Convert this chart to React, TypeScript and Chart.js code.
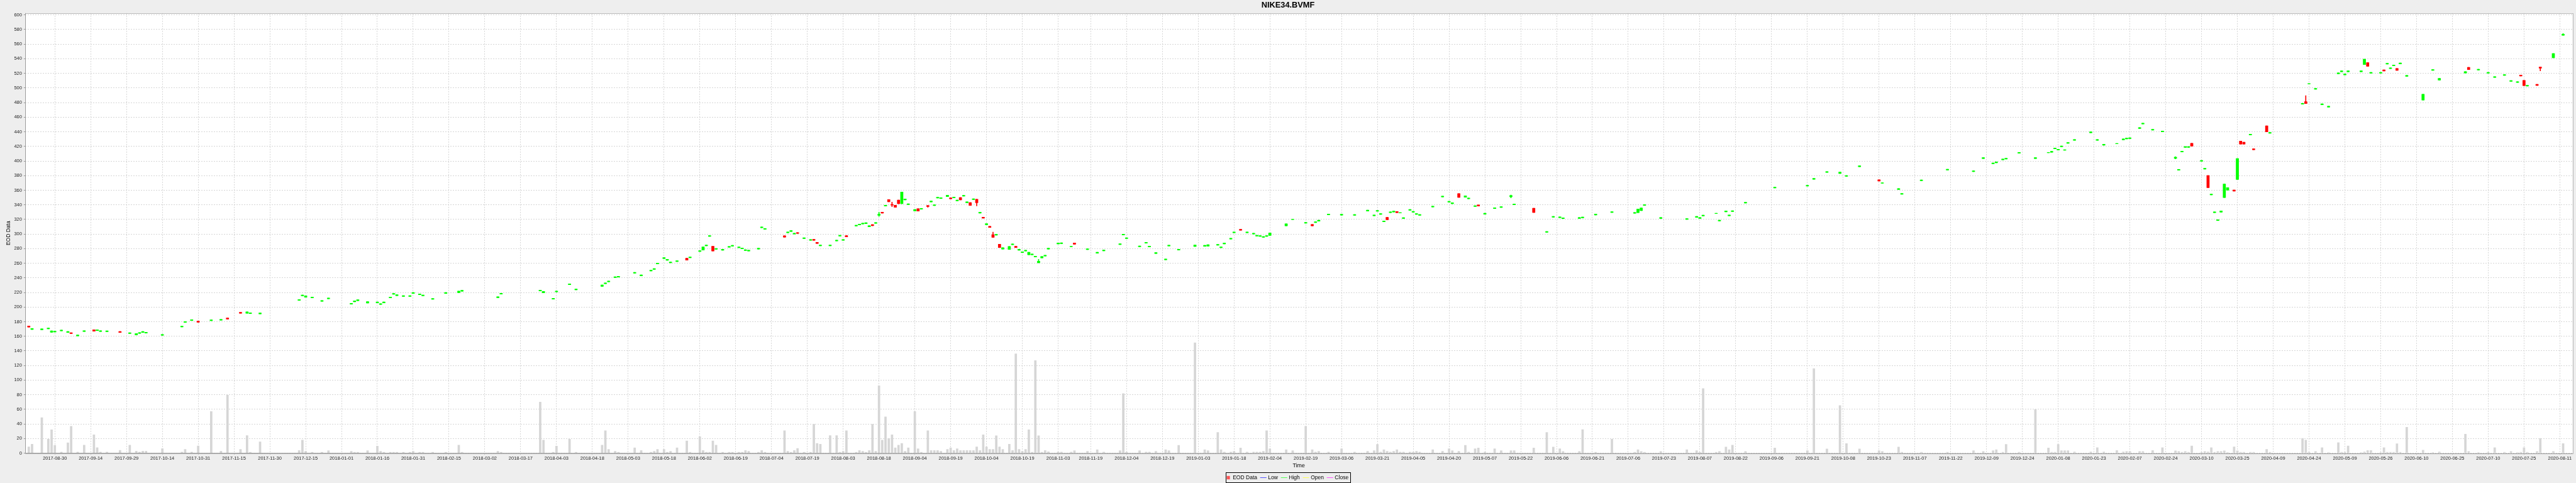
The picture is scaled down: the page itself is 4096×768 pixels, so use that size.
import React, { useEffect, useRef } from "react";
import { Chart, registerables } from "chart.js";

Chart.register(...registerables);

const W = 4096;
const H = 768;
const S = W / 5760;

const TITLE = "NIKE34.BVMF";
const Y_TITLE = "EOD Data";
const X_TITLE = "Time";
const LEGEND_NAMES = ["EOD Data", "Low", "High", "Open", "Close"];
const LEGEND_COLORS = ["#FF5555", "#5555FF", "#55FF55", "#FFFF55", "#FF55FF"];

// x: trading-day (Mon-Fri) offset from 2017-08-30
const DAY = [
  -8, -7, -4, -2, -1, 0, 2, 4, 5, 7,
  9, 12, 13, 14, 16, 20, 23, 25, 26, 27,
  28, 33, 39, 40, 42, 44, 48, 51, 53, 57,
  59, 60, 63, 75, 76, 77, 79, 82, 84, 91,
  92, 93, 96, 99, 100, 101, 103, 104, 105, 107,
  109, 110, 112, 113, 116, 120, 124, 125, 136, 137,
  149, 150, 153, 154, 158, 160, 168, 169, 170, 172,
  173, 178, 180, 183, 184, 185, 187, 188, 189, 191,
  194, 195, 198, 199, 200, 201, 202, 203, 205, 207,
  208, 210, 211, 212, 213, 216, 217, 218, 224, 225,
  226, 227, 228, 230, 232, 233, 234, 235, 238, 240,
  241, 242, 243, 246, 247, 248, 249, 250, 251, 252,
  253, 254, 255, 256, 257, 258, 259, 260, 261, 262,
  264, 265, 266, 268, 269, 270, 271, 272, 274, 275,
  276, 277, 278, 279, 280, 281, 282, 283, 284, 285,
  286, 287, 288, 289, 290, 291, 293, 294, 295, 296,
  297, 298, 299, 300, 301, 302, 303, 304, 305, 308,
  309, 312, 313, 317, 320, 322, 327, 328, 329, 333,
  335, 336, 338, 341, 342, 345, 350, 353, 354, 357,
  358, 359, 361, 362, 364, 366, 368, 369, 370, 371,
  372, 373, 378, 380, 384, 386, 387, 388, 391, 395,
  399, 403, 405, 406, 407, 408, 409, 410, 411, 412,
  413, 414, 416, 417, 418, 419, 423, 426, 428, 429,
  431, 433, 434, 436, 437, 439, 442, 444, 447, 448,
  454, 458, 460, 462, 463, 468, 469, 473, 478, 485,
  486, 487, 488, 493, 501, 504, 505, 506, 510, 511,
  513, 514, 515, 519, 528, 538, 540, 544, 548, 550,
  554, 560, 561, 566, 567, 573, 581, 589, 592, 595,
  596, 598, 599, 603, 608, 612, 613, 614, 615, 616,
  617, 618, 620, 625, 627, 629, 633, 635, 636, 637,
  640, 641, 644, 647, 651, 652, 653, 654, 655, 656,
  659, 660, 661, 662, 663, 664, 665, 666, 667, 669,
  670, 671, 672, 674, 675, 679, 680, 690, 691, 692,
  694, 696, 698, 701, 702, 703, 704, 708, 709, 710,
  711, 714, 715, 716, 717, 718, 719, 720, 722, 727,
  730, 732, 740, 741, 744, 747, 749, 752, 754, 756,
  757, 758, 759, 762, 763, 767, 770,
];

const OPEN = [
  174.2, 169.4, 169.0, 170.2, 165.5, 165.9, 167.3, 165.3, 164.9, 160.6,
  166.5, 169.0, 167.8, 166.5, 166.3, 166.5, 163.7, 161.8, 163.9, 165.3,
  164.3, 161.4, 172.7, 179.0, 181.6, 180.8, 181.4, 182.0, 185.2, 192.8,
  191.6, 191.0, 190.7, 209.1, 215.4, 213.5, 212.6, 207.9, 211.2, 204.0,
  207.3, 208.8, 205.4, 205.8, 203.6, 205.8, 212.6, 217.5, 215.7, 214.5,
  214.5, 218.7, 216.9, 215.4, 210.6, 218.7, 219.6, 221.7, 212.9, 217.8,
  222.0, 219.5, 210.9, 220.8, 230.7, 223.5, 228.4, 231.9, 234.6, 240.3,
  240.9, 246.3, 242.8, 249.4, 251.5, 259.0, 266.5, 264.1, 260.5, 262.3,
  267.0, 267.4, 276.1, 278.0, 283.9, 296.8, 283.3, 279.1, 277.9, 281.8,
  283.4, 281.2, 279.7, 277.3, 276.7, 279.4, 308.6, 306.5, 297.6, 301.7,
  303.5, 299.9, 302.0, 293.8, 291.4, 292.7, 288.6, 283.9, 283.9, 290.5,
  297.1, 291.4, 298.0, 311.0, 312.5, 313.7, 314.3, 309.9, 313.0, 314.6,
  325.5, 330.0, 338.3, 347.1, 340.5, 339.5, 346.5, 341.6, 346.8, 340.2,
  331.6, 334.7, 333.9, 339.0, 344.0, 338.9, 349.2, 348.6, 351.2, 349.6,
  349.5, 345.3, 350.1, 351.9, 342.9, 343.2, 347.1, 347.7, 328.7, 323.0,
  312.6, 310.6, 299.0, 298.4, 286.0, 279.3, 278.8, 285.4, 283.3, 277.9,
  274.6, 276.7, 271.6, 271.6, 268.6, 260.5, 267.3, 269.8, 279.4, 286.5,
  286.9, 282.5, 287.7, 278.7, 273.8, 277.0, 285.6, 298.7, 293.8, 282.6,
  287.5, 282.3, 273.4, 264.6, 283.6, 278.0, 282.9, 283.3, 283.5, 284.6,
  281.3, 286.5, 293.1, 301.7, 306.6, 301.7, 300.0, 297.1, 296.8, 295.4,
  296.8, 298.0, 311.1, 319.7, 314.8, 313.1, 315.7, 317.7, 326.2, 325.9,
  325.6, 331.5, 325.0, 331.2, 326.9, 316.7, 322.9, 329.2, 330.2, 330.9,
  328.8, 321.3, 332.5, 329.8, 326.9, 325.6, 337.0, 350.8, 343.6, 341.6,
  355.4, 350.4, 348.2, 337.7, 339.8, 327.2, 334.8, 336.4, 351.1, 340.0,
  335.4, 302.3, 323.0, 322.3, 321.1, 321.4, 322.2, 326.1, 329.4, 328.3,
  329.3, 332.1, 339.1, 321.4, 320.0, 322.9, 321.4, 324.7, 327.9, 317.9,
  330.4, 325.0, 330.8, 342.3, 363.1, 365.6, 375.0, 384.3, 382.9, 378.9,
  392.2, 374.4, 369.6, 361.0, 354.5, 372.9, 387.6, 385.4, 403.4, 396.2,
  397.6, 401.6, 402.6, 410.6, 403.4, 411.2, 412.0, 416.6, 414.9, 419.5,
  414.8, 424.2, 428.2, 438.7, 428.2, 421.7, 423.5, 429.0, 430.2, 430.6,
  444.5, 450.7, 442.2, 439.9, 403.5, 387.3, 412.4, 418.5, 418.5, 424.2,
  399.6, 388.8, 380.1, 353.6, 329.3, 318.4, 329.9, 350.0, 360.0, 360.4,
  374.7, 427.3, 425.8, 435.6, 416.8, 448.2, 437.9, 477.7, 481.4, 505.5,
  498.2, 477.0, 473.8, 519.4, 522.2, 517.9, 522.2, 522.2, 532.0, 534.7,
  520.2, 520.2, 524.7, 532.6, 526.4, 530.3, 526.7, 533.0, 516.0, 483.4,
  524.1, 510.8, 520.5, 528.2, 524.5, 520.2, 514.4, 517.2, 509.0, 507.5,
  517.7, 510.4, 502.5, 505.0, 528.6, 541.4, 572.0,
];

const CLOSE = [
  172.6, 170.6, 170.2, 171.4, 167.5, 167.1, 168.5, 166.5, 163.7, 161.8,
  167.7, 167.0, 169.0, 167.7, 167.5, 165.3, 164.9, 163.8, 165.1, 166.5,
  165.5, 162.6, 173.9, 180.2, 182.8, 179.2, 182.6, 183.2, 183.6, 191.6,
  193.6, 192.2, 191.9, 210.3, 216.6, 215.5, 213.8, 209.1, 212.4, 205.2,
  208.5, 210.0, 207.4, 207.0, 204.8, 207.0, 213.8, 218.7, 216.9, 215.7,
  215.7, 219.9, 218.1, 216.6, 211.8, 219.9, 222.0, 222.9, 214.1, 219.0,
  223.2, 221.5, 212.1, 222.0, 231.9, 224.7, 230.4, 233.1, 235.8, 241.5,
  242.1, 247.5, 244.0, 250.6, 252.7, 260.2, 267.7, 265.3, 261.7, 263.5,
  264.2, 268.6, 277.3, 282.5, 285.1, 298.0, 276.7, 280.3, 279.1, 283.0,
  284.6, 282.4, 280.9, 278.5, 277.9, 280.6, 309.8, 307.7, 295.6, 302.9,
  304.7, 301.1, 300.8, 295.0, 292.6, 291.3, 287.0, 285.1, 285.1, 291.7,
  298.3, 292.6, 296.2, 312.2, 313.7, 314.9, 315.5, 311.5, 311.4, 315.8,
  327.1, 328.6, 339.5, 344.1, 339.5, 336.5, 341.6, 357.6, 348.0, 341.4,
  333.6, 331.4, 335.1, 337.6, 345.2, 340.1, 350.4, 349.8, 353.2, 348.2,
  350.7, 346.5, 346.8, 353.1, 344.1, 339.2, 348.3, 342.9, 329.9, 321.8,
  314.2, 309.0, 295.4, 299.6, 281.5, 281.3, 283.0, 286.6, 281.5, 279.1,
  275.8, 277.9, 275.2, 272.8, 269.8, 262.9, 269.3, 271.0, 280.6, 287.7,
  288.1, 283.3, 285.9, 279.9, 275.0, 278.2, 286.8, 299.9, 295.0, 283.8,
  288.7, 283.5, 274.6, 265.8, 284.8, 279.2, 284.9, 284.5, 285.5, 285.8,
  282.5, 287.7, 294.3, 302.9, 305.2, 302.9, 301.2, 298.3, 298.0, 296.6,
  298.0, 301.6, 314.0, 320.3, 316.0, 311.1, 316.9, 318.9, 327.4, 327.1,
  326.8, 332.7, 326.2, 332.4, 328.1, 317.9, 319.6, 330.4, 331.4, 329.3,
  329.4, 322.5, 333.7, 331.0, 328.1, 326.8, 338.2, 352.0, 344.8, 342.8,
  350.1, 352.4, 349.4, 338.9, 338.2, 328.4, 336.0, 337.6, 352.9, 341.2,
  329.5, 303.5, 324.2, 323.5, 322.3, 322.6, 323.4, 327.3, 330.6, 329.5,
  334.3, 335.7, 340.3, 322.6, 321.2, 324.1, 322.6, 325.9, 328.5, 319.1,
  331.6, 326.2, 332.0, 343.5, 364.3, 366.8, 376.2, 385.5, 384.9, 380.1,
  393.4, 372.6, 370.2, 362.2, 355.7, 374.1, 388.8, 386.6, 404.6, 397.4,
  398.8, 402.8, 403.8, 411.8, 404.6, 411.8, 413.2, 417.8, 416.1, 420.7,
  415.4, 425.4, 429.4, 439.9, 429.4, 422.9, 424.1, 430.2, 431.4, 431.8,
  445.7, 451.9, 443.4, 441.1, 405.3, 388.5, 413.6, 419.7, 419.7, 420.3,
  400.8, 390.0, 363.5, 354.8, 330.5, 319.6, 331.8, 368.5, 363.5, 358.8,
  403.4, 423.1, 423.1, 436.8, 415.4, 440.0, 439.1, 478.9, 478.7, 506.1,
  499.4, 478.2, 475.0, 520.6, 523.4, 519.1, 523.4, 523.4, 539.4, 529.7,
  521.4, 521.4, 523.3, 533.8, 527.6, 531.5, 524.0, 534.2, 517.2, 491.5,
  525.3, 513.1, 522.4, 525.1, 525.7, 521.4, 515.6, 518.4, 510.2, 508.7,
  516.3, 503.1, 503.7, 503.5, 527.0, 547.1, 573.6,
];

const HIGH = [
  174.2, 170.6, 170.2, 171.4, 167.5, 167.1, 168.5, 166.5, 164.9, 161.8,
  167.7, 169.0, 169.0, 167.7, 167.5, 166.5, 164.9, 163.8, 165.1, 166.5,
  165.5, 162.6, 173.9, 180.2, 182.8, 180.8, 182.6, 183.2, 185.2, 192.8,
  193.6, 192.2, 191.9, 210.3, 216.6, 215.5, 213.8, 209.1, 212.4, 205.2,
  208.5, 210.0, 207.4, 207.0, 204.8, 207.0, 213.8, 218.7, 216.9, 215.7,
  215.7, 219.9, 218.1, 216.6, 211.8, 219.9, 222.0, 222.9, 214.1, 219.0,
  223.2, 221.5, 212.1, 222.0, 231.9, 224.7, 230.4, 233.1, 235.8, 241.5,
  242.1, 247.5, 244.0, 250.6, 252.7, 260.2, 267.7, 265.3, 261.7, 263.5,
  267.0, 268.6, 277.3, 282.5, 285.1, 298.0, 283.3, 280.3, 279.1, 283.0,
  284.6, 282.4, 280.9, 278.5, 277.9, 280.6, 309.8, 307.7, 297.6, 302.9,
  304.7, 301.1, 302.0, 295.0, 292.6, 292.7, 288.6, 285.1, 285.1, 291.7,
  298.3, 292.6, 298.0, 312.2, 313.7, 314.9, 315.5, 311.5, 313.0, 315.8,
  330.0, 330.0, 339.5, 347.1, 343.8, 339.5, 346.5, 357.6, 348.0, 341.4,
  333.6, 334.7, 335.1, 339.3, 345.2, 340.1, 350.4, 349.8, 353.2, 349.6,
  350.7, 346.5, 350.1, 353.1, 344.1, 343.2, 348.3, 347.7, 329.9, 323.0,
  314.2, 310.6, 302.6, 299.6, 286.0, 281.3, 283.0, 286.6, 283.3, 279.1,
  275.8, 277.9, 275.2, 272.8, 269.8, 265.3, 269.3, 271.0, 280.6, 287.7,
  288.1, 283.3, 287.7, 279.9, 275.0, 278.2, 286.8, 299.9, 295.0, 283.8,
  288.7, 283.5, 274.6, 265.8, 284.8, 279.2, 284.9, 284.5, 285.5, 285.8,
  282.5, 287.7, 294.3, 302.9, 306.6, 302.9, 301.2, 298.3, 298.0, 296.6,
  298.0, 301.6, 314.0, 320.3, 316.0, 313.1, 316.9, 318.9, 327.4, 327.1,
  326.8, 332.7, 326.2, 332.4, 328.1, 317.9, 322.9, 330.4, 331.4, 330.9,
  329.4, 322.5, 333.7, 331.0, 328.1, 326.8, 338.2, 352.0, 344.8, 342.8,
  355.4, 352.4, 349.4, 338.9, 339.8, 328.4, 336.0, 337.6, 353.5, 341.2,
  335.4, 303.5, 324.2, 323.5, 322.3, 322.6, 323.4, 327.3, 330.6, 329.5,
  334.3, 335.7, 340.3, 322.6, 321.2, 324.1, 322.6, 325.9, 328.5, 319.1,
  331.6, 326.2, 332.0, 343.5, 364.3, 366.8, 376.2, 385.5, 384.9, 380.1,
  393.4, 374.4, 370.2, 362.2, 355.7, 374.1, 388.8, 386.6, 404.6, 397.4,
  398.8, 402.8, 403.8, 411.8, 404.6, 411.8, 413.2, 417.8, 416.1, 420.7,
  415.4, 425.4, 429.4, 439.9, 429.4, 422.9, 424.1, 430.2, 431.4, 431.8,
  445.7, 451.9, 443.4, 441.1, 406.0, 388.5, 413.6, 419.7, 419.7, 424.2,
  400.8, 390.0, 380.1, 354.8, 330.5, 319.6, 331.8, 368.5, 363.5, 360.4,
  403.4, 427.3, 425.8, 436.8, 416.8, 448.2, 439.1, 478.9, 489.6, 506.1,
  499.4, 478.2, 475.0, 520.6, 523.4, 519.1, 523.4, 523.4, 539.4, 534.7,
  521.4, 521.4, 524.7, 533.8, 527.6, 531.5, 526.7, 534.2, 517.2, 491.5,
  525.3, 513.1, 522.4, 528.2, 525.7, 521.4, 515.6, 518.4, 510.2, 508.7,
  517.7, 510.4, 503.7, 505.0, 528.6, 547.1, 574.6,
];

const LOW = [
  172.6, 169.4, 169.0, 170.2, 165.5, 165.9, 167.3, 165.3, 163.7, 160.6,
  166.5, 167.0, 167.8, 166.5, 166.3, 165.3, 163.7, 161.8, 163.9, 165.3,
  164.3, 161.4, 172.7, 179.0, 181.6, 179.2, 181.4, 182.0, 183.6, 191.6,
  191.6, 191.0, 190.7, 209.1, 215.4, 213.5, 212.6, 207.9, 211.2, 204.0,
  207.3, 208.8, 205.4, 205.8, 203.6, 205.8, 212.6, 217.5, 215.7, 214.5,
  214.5, 218.7, 216.9, 215.4, 210.6, 218.7, 219.6, 221.7, 212.9, 217.8,
  222.0, 219.5, 210.9, 220.8, 230.7, 223.5, 228.4, 231.9, 234.6, 240.3,
  240.9, 246.3, 242.8, 249.4, 251.5, 259.0, 266.5, 264.1, 260.5, 262.3,
  264.2, 267.4, 276.1, 278.0, 283.9, 296.8, 276.7, 279.1, 277.9, 281.8,
  283.4, 281.2, 279.7, 277.3, 276.7, 279.4, 308.6, 306.5, 295.6, 301.7,
  303.5, 299.9, 300.8, 293.8, 291.4, 291.3, 287.0, 283.9, 283.9, 290.5,
  297.1, 291.4, 296.2, 311.0, 312.5, 313.7, 314.3, 309.9, 311.4, 314.6,
  324.0, 328.6, 338.3, 344.1, 337.4, 336.5, 341.6, 341.6, 346.8, 340.2,
  331.6, 331.4, 333.9, 336.6, 344.0, 338.9, 349.2, 348.6, 351.2, 348.2,
  349.5, 345.3, 346.8, 351.9, 342.9, 339.2, 347.1, 338.6, 328.7, 321.8,
  312.6, 309.0, 295.4, 298.4, 281.5, 279.3, 278.8, 285.4, 281.5, 277.9,
  274.6, 276.7, 271.6, 271.6, 268.6, 260.5, 267.3, 269.8, 279.4, 286.5,
  286.9, 282.5, 285.9, 278.7, 273.8, 277.0, 285.6, 298.7, 293.8, 282.6,
  287.5, 282.3, 273.4, 264.6, 283.6, 278.0, 282.9, 283.3, 283.5, 284.6,
  281.3, 286.5, 293.1, 301.7, 305.2, 301.7, 300.0, 297.1, 296.8, 295.4,
  296.8, 298.0, 311.1, 319.7, 314.8, 311.1, 315.7, 317.7, 326.2, 325.9,
  325.6, 331.5, 325.0, 331.2, 326.9, 316.7, 319.6, 329.2, 330.2, 329.3,
  328.8, 321.3, 332.5, 329.8, 326.9, 325.6, 337.0, 350.8, 343.6, 341.6,
  350.1, 350.4, 348.2, 337.7, 338.2, 327.2, 334.8, 336.4, 349.5, 340.0,
  329.5, 302.3, 323.0, 322.3, 321.1, 321.4, 322.2, 326.1, 329.4, 328.3,
  329.3, 332.1, 339.1, 321.4, 320.0, 322.9, 321.4, 324.7, 327.9, 317.9,
  330.4, 325.0, 330.8, 342.3, 363.1, 365.6, 375.0, 384.3, 382.9, 378.9,
  392.2, 372.6, 369.6, 361.0, 354.5, 372.9, 387.6, 385.4, 403.4, 396.2,
  397.6, 401.6, 402.6, 410.6, 403.4, 411.2, 412.0, 416.6, 414.9, 419.5,
  414.8, 424.2, 428.2, 438.7, 428.2, 421.7, 423.5, 429.0, 430.2, 430.6,
  444.5, 450.7, 442.2, 439.9, 402.8, 387.3, 412.4, 418.5, 418.5, 420.3,
  399.6, 388.8, 363.5, 353.6, 329.3, 318.4, 329.9, 350.0, 360.0, 358.8,
  374.7, 423.1, 423.1, 435.6, 415.4, 440.0, 437.9, 477.7, 478.7, 505.5,
  498.2, 477.0, 473.8, 519.4, 522.2, 517.9, 522.2, 522.2, 532.0, 529.7,
  520.2, 520.2, 523.3, 532.6, 526.4, 530.3, 524.0, 533.0, 516.0, 483.4,
  524.1, 510.8, 520.5, 525.1, 524.5, 520.2, 514.4, 517.2, 509.0, 507.5,
  516.3, 503.1, 502.5, 503.5, 523.5, 541.4, 572.0,
];

const VOLUME = [
  8.6, 12.2, 48.6, 19.2, 32, 10.8, 1.4, 14.3, 36.9, 1.4,
  11, 25.1, 7.6, 1.4, 1.4, 3.9, 11, 2.7, 1.4, 2.7,
  2.7, 6.3, 1.4, 5.1, 1.4, 10, 57.1, 2.7, 79.5, 5.2,
  24.2, 1.3, 15.5, 3.7, 17.9, 2.5, 1.3, 1.3, 3.4, 2.5,
  1.3, 1.3, 3.4, 9.7, 2.5, 1.3, 1.3, 1.3, 1.3, 1.3,
  1.3, 2.5, 1.3, 1.3, 1.3, 1.3, 11, 1.3, 2.5, 1.3,
  70, 17.9, 1.3, 9.7, 19.1, 1.3, 11, 30.8, 5.2, 2.5,
  1.3, 7.3, 3.7, 1.3, 2.5, 5.2, 5.2, 1.3, 2.5, 7.3,
  16.7, 1.3, 22.7, 3.7, 1.3, 1.3, 16.7, 11, 1.3, 1.3,
  1.3, 1.3, 1.3, 3.7, 2.5, 1.3, 3.7, 1.3, 30.8, 2.5,
  1.3, 3.7, 6.4, 1.3, 1.3, 39.5, 13.4, 12.2, 24.2, 24.2,
  1.3, 2.5, 30.8, 1.3, 3.7, 2.5, 1.3, 3.7, 39.5, 2.5,
  92.4, 17.9, 49.8, 20.3, 25.1, 7.3, 11, 13.4, 2.5, 7.3,
  57, 6.1, 1.3, 30.8, 3.7, 3.7, 3.7, 2.5, 5.2, 7.3,
  3.7, 6.1, 3.7, 3.7, 3.7, 3.7, 3.7, 8.5, 3.7, 25.1,
  8.5, 5.2, 5.2, 23.9, 8.5, 5.2, 12.2, 3.7, 136, 5.2,
  2.5, 5.2, 32, 1.3, 126.7, 23.9, 1.3, 3.7, 2, 1.5,
  1.5, 1.5, 3.4, 2.5, 4.8, 1.5, 3.4, 81.5, 1.5, 3.4,
  1.5, 1.5, 2.5, 4.8, 3.4, 10.7, 151, 4.8, 3.4, 28.4,
  4.8, 1.5, 1.5, 2.5, 7.1, 1.5, 1.5, 1.5, 1.5, 2.5,
  30.7, 6.1, 4.8, 3.4, 36.9, 4.8, 1.5, 2.5, 1.5, 6.1,
  1.5, 2.5, 3.4, 12, 1.5, 4.8, 2.5, 1.5, 2.5, 4.8,
  1.5, 1.5, 1.5, 1.5, 2.5, 1.5, 4.8, 2.5, 6.1, 3.4,
  2.5, 10.7, 1.5, 6.1, 7.1, 1.5, 6.1, 3.4, 3.4, 3.4,
  7.1, 28.4, 8.4, 6, 2.3, 2.3, 32.2, 1.3, 19.2, 1.3,
  4.8, 2.3, 1.3, 2.3, 4.8, 3.4, 1.3, 88.5, 1.3, 2.3,
  8.4, 4.8, 11, 2.3, 7, 3.4, 115.9, 5.9, 65.2, 13.1,
  5.9, 3.4, 2.3, 8.4, 1.3, 1.3, 1.3, 3.4, 2.3, 3.4,
  4.8, 1.3, 12, 1.3, 59.8, 7, 1.3, 1.3, 12, 3.4,
  3.4, 3.5, 1.7, 1.7, 7.5, 1.7, 3.6, 1.7, 2.4, 2.4,
  2.4, 2.4, 3.6, 7.5, 3.2, 2.4, 1.3, 2.4, 1.3, 9.8,
  1.3, 2.4, 1.7, 7.5, 1.3, 2.4, 2.4, 3.2, 0.9, 8.6,
  3.2, 1.3, 1.3, 1.3, 1.3, 5.1, 1.3, 20.2, 17.9, 1.3,
  2.4, 7.5, 0.9, 14.4, 1.3, 1.3, 9.8, 0.9, 1.7, 3.6,
  3.6, 0.9, 7.5, 1.3, 1.3, 1.3, 12.9, 1.3, 35.6, 4.0,
  0.9, 1.7, 26, 2.4, 0.9, 1.3, 7.5, 1.3, 2.4, 0.9,
  1.3, 7.5, 1.3, 2.4, 20.2, 2.4, 13.2,
];

const TICK_LABELS = [
  "2017-08-30", "2017-09-14", "2017-09-29", "2017-10-14", "2017-10-31",
  "2017-11-15", "2017-11-30", "2017-12-15", "2018-01-01", "2018-01-16",
  "2018-01-31", "2018-02-15", "2018-03-02", "2018-03-17", "2018-04-03",
  "2018-04-18", "2018-05-03", "2018-05-18", "2018-06-02", "2018-06-19",
  "2018-07-04", "2018-07-19", "2018-08-03", "2018-08-18", "2018-09-04",
  "2018-09-19", "2018-10-04", "2018-10-19", "2018-11-03", "2018-11-19",
  "2018-12-04", "2018-12-19", "2019-01-03", "2019-01-18", "2019-02-04",
  "2019-02-19", "2019-03-06", "2019-03-21", "2019-04-05", "2019-04-20",
  "2019-05-07", "2019-05-22", "2019-06-06", "2019-06-21", "2019-07-06",
  "2019-07-23", "2019-08-07", "2019-08-22", "2019-09-06", "2019-09-21",
  "2019-10-08", "2019-10-23", "2019-11-07", "2019-11-22", "2019-12-09",
  "2019-12-24", "2020-01-08", "2020-01-23", "2020-02-07", "2020-02-24",
  "2020-03-10", "2020-03-25", "2020-04-09", "2020-04-24", "2020-05-09",
  "2020-05-26", "2020-06-10", "2020-06-25", "2020-07-10", "2020-07-25",
  "2020-08-11",
];

const Y_MIN = 0;
const Y_MAX = 602.5;
const Y_STEP = 20;
const X_MIN = -9.15;
const X_MAX = 772.9;

const UP = "#00FF00";
const DOWN = "#FF0000";
const VOL_COLOR = "#D6D6D6";
const FONT = '"Liberation Sans", Arial, Helvetica, sans-serif';

// Mon-Fri axis position of a calendar date (weekend -> following Monday)
const EPOCH = Date.UTC(2017, 7, 30);
function tradingOffset(iso: string): number {
  const [y, m, d] = iso.split("-").map(Number);
  let t = Date.UTC(y, m - 1, d);
  const dow = new Date(t).getUTCDay();
  if (dow === 6) t += 2 * 86400000;
  else if (dow === 0) t += 86400000;
  const days = Math.round((t - EPOCH) / 86400000);
  const weeks = Math.floor(days / 7);
  let count = weeks * 5;
  let wd = 3;
  for (let i = 0; i < days - weeks * 7; i++) {
    if (wd >= 1 && wd <= 5) count++;
    wd = (wd + 1) % 7;
  }
  return count;
}

const decor = {
  id: "decor",
  beforeDraw(chart: any) {
    const { ctx, chartArea: a } = chart;
    ctx.save();
    ctx.fillStyle = "#EEEEEE";
    ctx.fillRect(0, 0, W, H);
    ctx.fillStyle = "#FFFFFF";
    ctx.fillRect(a.left, a.top, a.right - a.left, a.bottom - a.top);
    ctx.restore();
  },
  afterDraw(chart: any) {
    const { ctx, chartArea: a } = chart;
    ctx.save();
    // plot outline
    ctx.strokeStyle = "#B8B8B8";
    ctx.lineWidth = 1;
    ctx.strokeRect(Math.round(a.left) + 0.5, Math.round(a.top) + 0.5, Math.round(a.right - a.left), Math.round(a.bottom - a.top));
    ctx.strokeStyle = "#999999";
    ctx.beginPath();
    ctx.moveTo(Math.round(a.left) + 0.5, a.top);
    ctx.lineTo(Math.round(a.left) + 0.5, a.bottom);
    ctx.lineTo(a.right, Math.round(a.bottom) + 0.5);
    ctx.stroke();

    // title
    ctx.fillStyle = "#000000";
    ctx.textAlign = "center";
    ctx.textBaseline = "middle";
    ctx.font = `bold ${18 * S}px ${FONT}`;
    ctx.fillText(TITLE, W / 2, 12.5 * S);

    // axis titles
    ctx.font = `${12.5 * S}px ${FONT}`;
    ctx.fillText(X_TITLE, (a.left + a.right) / 2, 1040.7 * S);
    ctx.save();
    ctx.translate(19 * S, (a.top + a.bottom) / 2);
    ctx.rotate(-Math.PI / 2);
    ctx.font = `${12 * S}px ${FONT}`;
    ctx.fillText(Y_TITLE, 0, 0);
    ctx.restore();

    // legend
    ctx.font = `${12 * S}px ${FONT}`;
    const padL = 2.3 * S, sq = 7 * S, gapSq = 6.4 * S, gapItem = 6.6 * S;
    const lineW = 14.3 * S, gapLine = 3.5 * S, padR = 4 * S;
    let total = padL + sq + gapSq + ctx.measureText(LEGEND_NAMES[0]).width;
    for (let i = 1; i < LEGEND_NAMES.length; i++) {
      total += gapItem + lineW + gapLine + ctx.measureText(LEGEND_NAMES[i]).width;
    }
    total += padR;
    const bx = W / 2 - total / 2;
    const by = 1056.7 * S;
    const bh = 22 * S;
    const cy = by + bh / 2;
    ctx.strokeStyle = "#000000";
    ctx.lineWidth = 1;
    ctx.strokeRect(Math.round(bx) + 0.5, Math.round(by) + 0.5, Math.round(total), Math.round(bh));
    let x = bx + padL;
    ctx.fillStyle = LEGEND_COLORS[0];
    ctx.fillRect(x, cy - sq / 2, sq, sq * 1.1);
    x += sq + gapSq;
    ctx.textAlign = "left";
    ctx.fillStyle = "#000000";
    ctx.fillText(LEGEND_NAMES[0], x, cy);
    x += ctx.measureText(LEGEND_NAMES[0]).width;
    for (let i = 1; i < LEGEND_NAMES.length; i++) {
      x += gapItem;
      ctx.strokeStyle = LEGEND_COLORS[i];
      ctx.lineWidth = 1;
      ctx.beginPath();
      ctx.moveTo(x, Math.round(cy) + 0.5);
      ctx.lineTo(x + lineW, Math.round(cy) + 0.5);
      ctx.stroke();
      x += lineW + gapLine;
      ctx.fillStyle = "#000000";
      ctx.fillText(LEGEND_NAMES[i], x, cy);
      x += ctx.measureText(LEGEND_NAMES[i]).width;
    }
    ctx.restore();
  },
};

export default function App() {
  const ref = useRef<HTMLCanvasElement>(null);

  useEffect(() => {
    const canvas = ref.current;
    if (!canvas) return;
    const up = DAY.map((_, i) => CLOSE[i] >= OPEN[i]);
    const colors = up.map((u) => (u ? UP : DOWN));
    const bodies = DAY.map((d, i) => ({ x: d, y: [OPEN[i], CLOSE[i]] }));
    const wicks = DAY.map((d, i) => ({ x: d, y: [LOW[i], HIGH[i]] }));
    const vols = DAY.map((d, i) => ({ x: d, y: VOLUME[i] }));
    const tickValues = TICK_LABELS.map(tradingOffset);

    const gridCommon = {
      color: "rgba(200,200,200,0.75)",
      lineWidth: 1,
      drawTicks: true,
      tickLength: 2,
      tickColor: "#999999",
      tickWidth: 1,
    };

    const chart = new Chart(canvas, {
      type: "bar",
      data: {
        datasets: [
          {
            label: "body",
            data: bodies as any,
            backgroundColor: colors,
            borderWidth: 0,
            barThickness: 5.7 * S,
            grouped: false,
            order: 0,
          } as any,
          {
            label: "wick",
            data: wicks as any,
            backgroundColor: colors,
            borderWidth: 0,
            barThickness: 1,
            grouped: false,
            order: 1,
          } as any,
          {
            label: "volume",
            data: vols as any,
            backgroundColor: VOL_COLOR,
            borderWidth: 0,
            barThickness: 4.3 * S,
            grouped: false,
            order: 2,
          } as any,
        ],
      },
      options: {
        animation: false,
        responsive: false,
        devicePixelRatio: 1,
        events: [],
        layout: { padding: { top: 29.3 * S, right: W - 5752.3 * S, bottom: 0, left: 0 } },
        plugins: {
          legend: { display: false },
          title: { display: false },
          tooltip: { enabled: false },
        },
        scales: {
          x: {
            type: "linear",
            min: X_MIN,
            max: X_MAX,
            offset: false,
            afterFit: (scale: any) => {
              scale.height = H - 1013.3 * S;
            },
            afterBuildTicks: (scale: any) => {
              scale.ticks = tickValues.map((v) => ({ value: v }));
            },
            ticks: {
              autoSkip: false,
              maxRotation: 0,
              minRotation: 0,
              padding: 2,
              color: "#222222",
              font: { family: FONT, size: 10.5 * S },
              callback: (_v: any, i: number) => TICK_LABELS[i],
            },
            grid: { ...gridCommon, offset: false },
            border: { display: false, dash: [2, 2] },
          } as any,
          y: {
            type: "linear",
            min: Y_MIN,
            max: Y_MAX,
            afterFit: (scale: any) => {
              scale.width = 56 * S;
            },
            ticks: {
              stepSize: Y_STEP,
              includeBounds: false,
              padding: 3,
              color: "#222222",
              font: { family: FONT, size: 10.5 * S },
              callback: (v: any) => String(Math.round(Number(v))),
            },
            grid: gridCommon,
            border: { display: false, dash: [2, 2] },
          } as any,
        },
      },
      plugins: [decor],
    });

    return () => chart.destroy();
  }, []);

  return (
    <div style={{ position: "fixed", left: 0, top: 0, width: W, height: H, background: "#EEEEEE" }}>
      <canvas ref={ref} width={W} height={H} style={{ display: "block", width: W, height: H }} />
    </div>
  );
}
